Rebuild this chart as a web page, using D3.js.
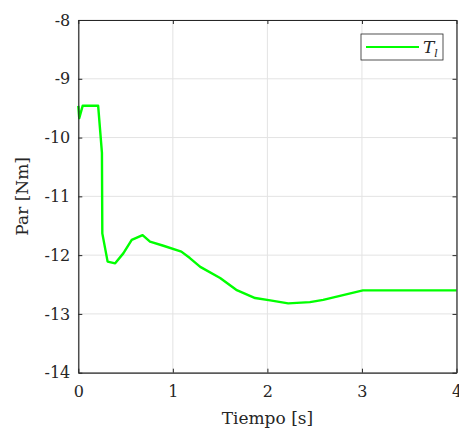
<!DOCTYPE html>
<html><head><meta charset="utf-8">
<script src="https://cdn.jsdelivr.net/npm/d3@7"></script>
<style>body{margin:0;background:#fff}svg{display:block}</style>
</head><body><svg id="c" width="459" height="428"></svg>
<script>
const timeS = [0, 0.01, 0.046, 0.21, 0.25, 0.254, 0.31, 0.39, 0.476, 0.565, 0.68, 0.758, 0.9, 1.09, 1.18, 1.29, 1.5, 1.67, 1.87, 2.03, 2.22, 2.45, 2.59, 2.8, 3.01, 3.5, 4.0];
const torque = [-9.46, -9.67, -9.46, -9.46, -10.26, -11.63, -12.11, -12.14, -11.97, -11.74, -11.66, -11.77, -11.84, -11.94, -12.05, -12.2, -12.39, -12.59, -12.73, -12.77, -12.82, -12.80, -12.76, -12.68, -12.60, -12.60, -12.60];
const xTicks = [0, 1, 2, 3, 4];
const yTicks = [-14, -13, -12, -11, -10, -9, -8];
const seriesName = "T";
const FONT = "DejaVu Serif, serif";

const svg = d3.select("#c");
const L = 78.3, R = 456.5, T = 20, B = 372.7;
const x = d3.scaleLinear().domain([0, 4]).range([L, R]);
const y = d3.scaleLinear().domain([-14, -8]).range([B, T]);

// grid
svg.append("g").selectAll("line").data(xTicks).join("line")
  .attr("x1", d => x(d)).attr("x2", d => x(d)).attr("y1", T).attr("y2", B)
  .attr("stroke", "#e3e3e3").attr("stroke-width", 1);
svg.append("g").selectAll("line").data(yTicks).join("line")
  .attr("x1", L).attr("x2", R).attr("y1", d => y(d)).attr("y2", d => y(d))
  .attr("stroke", "#e3e3e3").attr("stroke-width", 1);

// line
const line = d3.line().x((d, i) => x(timeS[i])).y(d => y(d));
svg.append("path").datum(torque).attr("d", line)
  .attr("fill", "none").attr("stroke", "#00ff00").attr("stroke-width", 2.4)
  .attr("stroke-linejoin", "round");

// axes
const fmt = d => d < 0 ? "-" + Math.abs(d) : String(d);
const ax = svg.append("g").attr("transform", `translate(0,${B})`)
  .call(d3.axisBottom(x).tickValues(xTicks).tickSizeInner(-4).tickSizeOuter(0).tickPadding(13).tickFormat(fmt));
const ay = svg.append("g").attr("transform", `translate(${L},0)`)
  .call(d3.axisLeft(y).tickValues(yTicks).tickSizeInner(-4).tickSizeOuter(0).tickPadding(8).tickFormat(fmt));
svg.append("g").attr("transform", `translate(0,${T})`)
  .call(d3.axisTop(x).tickValues(xTicks).tickSizeInner(-4).tickSizeOuter(0).tickFormat(""));
svg.append("g").attr("transform", `translate(${R},0)`)
  .call(d3.axisRight(y).tickValues(yTicks).tickSizeInner(-4).tickSizeOuter(0).tickFormat(""));
svg.selectAll(".domain").attr("stroke", "#262626").attr("stroke-width", 1.2);
svg.selectAll(".tick line").attr("stroke", "#262626");
svg.selectAll("g").attr("font-family", FONT);
svg.selectAll(".tick text").attr("font-size", 16).attr("font-family", FONT).attr("fill", "#262626");

// labels
svg.append("text").attr("x", (L + R) / 2).attr("y", 424).attr("text-anchor", "middle")
  .attr("font-family", FONT).attr("fill", "#262626").attr("font-size", 17).text("Tiempo [s]");
svg.append("text").attr("transform", `translate(28,${(T + B) / 2}) rotate(-90)`)
  .attr("font-family", FONT).attr("fill", "#262626")
  .attr("text-anchor", "middle").attr("font-size", 17).text("Par [Nm]");

// legend
svg.append("rect").attr("x", 361).attr("y", 34).attr("width", 82).attr("height", 26)
  .attr("fill", "#fff").attr("stroke", "#262626").attr("stroke-width", 0.8);
svg.append("line").attr("x1", 366).attr("x2", 419).attr("y1", 47).attr("y2", 47)
  .attr("stroke", "#00ff00").attr("stroke-width", 2);
const lt = svg.append("text").attr("x", 423).attr("y", 53).attr("font-size", 17)
  .attr("font-family", FONT).attr("fill", "#262626").attr("font-style", "italic");
lt.append("tspan").text(seriesName);
lt.append("tspan").attr("font-size", 11).attr("dy", 4).text("l");
</script></body></html>
